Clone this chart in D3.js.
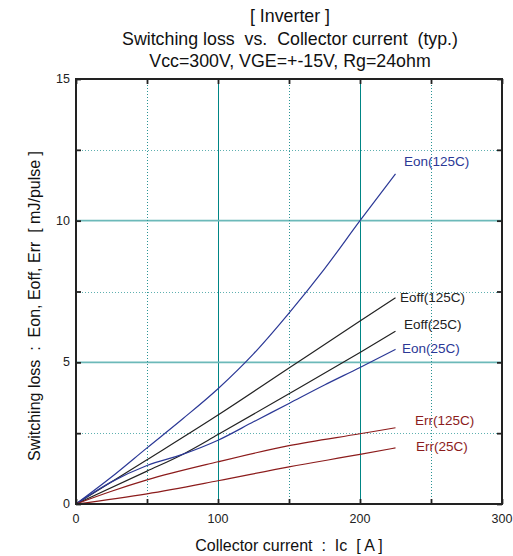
<!DOCTYPE html>
<html>
<head>
<meta charset="utf-8">
<script src="https://cdn.jsdelivr.net/npm/d3@7"></script>
<style>
  body { margin: 0; background: #fff; }
  text { font-family: "Liberation Sans", Arial, sans-serif; white-space: pre; }
</style>
</head>
<body>
<svg id="chart"></svg>
<script>
// values (Ic in A, E in mJ/pulse)
const eon125 = [[0,0],[25,0.95],[50,1.98],[75,3.0],[100,4.07],[125,5.3],[150,6.74],[175,8.3],[200,10.0],[225,11.65]];
const eoff125 = [[0,0],[50,1.56],[100,3.14],[150,4.8],[200,6.46],[225,7.28]];
const eoff25 = [[0,0],[50,1.16],[75,1.75],[100,2.45],[150,3.89],[200,5.35],[225,6.1]];
const eon25 = [[0,0],[25,0.78],[50,1.36],[75,1.75],[100,2.25],[125,2.9],[150,3.55],[175,4.2],[200,4.82],[225,5.46]];
const err125 = [[0,0],[25,0.45],[50,0.85],[100,1.49],[150,2.06],[200,2.48],[225,2.69]];
const err25 = [[0,0],[50,0.36],[100,0.82],[150,1.31],[200,1.75],[225,1.98]];

const xTicks = [0, 100, 200, 300];
const yTicks = [0, 5, 10, 15];
const xMinor = [50, 150, 250];
const yMinor = [2.5, 7.5, 12.5];

const titleLines = ["[ Inverter ]", "Switching loss  vs.  Collector current  (typ.)", "Vcc=300V, VGE=+-15V, Rg=24ohm"];

const blue = "#2b3896", black = "#222222", red = "#8c1c1c";

const series = [
    {name: "Eon(125C)", data: eon125, color: blue, lx: 404, ly: 166},
    {name: "Eoff(125C)", data: eoff125, color: black, lx: 400, ly: 302},
    {name: "Eoff(25C)", data: eoff25, color: black, lx: 404, ly: 329},
    {name: "Eon(25C)", data: eon25, color: blue, lx: 402, ly: 353},
    {name: "Err(125C)", data: err125, color: red, lx: 415, ly: 425},
    {name: "Err(25C)", data: err25, color: red, lx: 416, ly: 451}
];

const W = 513, H = 556;
const margin = {left: 76, top: 79, right: 11, bottom: 52}; // plot box

const svg = d3.select("#chart").attr("width", W).attr("height", H);

const x = d3.scaleLinear().domain([0, 300]).range([margin.left, W - margin.right]);
const y = d3.scaleLinear().domain([0, 15]).range([H - margin.bottom, margin.top]);

// grid (vertical lines nudged half a pixel so they stay crisp)
const grid = svg.append("g");
grid.selectAll(".vmaj").data([100, 200]).join("line")
    .attr("x1", d => Math.round(x(d)) + 0.5).attr("x2", d => Math.round(x(d)) + 0.5)
    .attr("y1", y(15)).attr("y2", y(0))
    .attr("stroke", "#008585").attr("stroke-width", 1);
grid.selectAll(".hmaj").data([5, 10]).join("line")
    .attr("x1", x(0)).attr("x2", x(300))
    .attr("y1", d => y(d)).attr("y2", d => y(d))
    .attr("stroke", "#6cb9b9").attr("stroke-width", 1.8);
grid.selectAll(".vmin").data(xMinor).join("line")
    .attr("x1", d => Math.round(x(d)) + 0.5).attr("x2", d => Math.round(x(d)) + 0.5)
    .attr("y1", y(15)).attr("y2", y(0))
    .attr("stroke", "#2a9494").attr("stroke-width", 1).attr("stroke-dasharray", "1,2");
grid.selectAll(".hmin").data(yMinor).join("line")
    .attr("x1", x(0)).attr("x2", x(300))
    .attr("y1", d => Math.round(y(d)) + 0.5).attr("y2", d => Math.round(y(d)) + 0.5)
    .attr("stroke", "#5fb0b0").attr("stroke-width", 1).attr("stroke-dasharray", "1,2");

// curves
const line = d3.line().x(d => x(d[0])).y(d => y(d[1])).curve(d3.curveMonotoneX);
svg.selectAll(".curve").data(series).join("path")
    .attr("d", d => line(d.data))
    .attr("fill", "none")
    .attr("stroke", d => d.color)
    .attr("stroke-width", 1.2);

svg.selectAll(".lbl").data(series).join("text")
    .attr("x", d => d.lx).attr("y", d => d.ly)
    .attr("fill", d => d.color)
    .attr("font-size", 13.5)
    .text(d => d.name);

// axes with inward ticks on all four sides
const allX = [0, 50, 100, 150, 200, 250, 300];
const allY = [0, 2.5, 5, 7.5, 10, 12.5, 15];
const tickLen = 5;
svg.append("g").attr("transform", `translate(0,${y(0)})`)
    .call(d3.axisTop(x).tickValues(allX).tickSize(tickLen).tickFormat(""));
svg.append("g").attr("transform", `translate(0,${y(15)})`)
    .call(d3.axisBottom(x).tickValues(allX).tickSize(tickLen).tickFormat(""));
svg.append("g").attr("transform", `translate(${x(0)},0)`)
    .call(d3.axisRight(y).tickValues(allY).tickSize(tickLen).tickFormat(""));
svg.append("g").attr("transform", `translate(${x(300)},0)`)
    .call(d3.axisLeft(y).tickValues(allY).tickSize(tickLen).tickFormat(""));
svg.selectAll(".tick line").attr("stroke", "#222").attr("stroke-width", 1.8);
svg.selectAll(".domain").remove();

svg.append("rect")
    .attr("x", x(0)).attr("y", y(15))
    .attr("width", x(300) - x(0)).attr("height", y(0) - y(15))
    .attr("fill", "none").attr("stroke", "#222").attr("stroke-width", 2);

// tick labels
svg.selectAll(".xl").data(xTicks).join("text")
    .attr("x", d => x(d)).attr("y", y(0) + 19)
    .attr("text-anchor", "middle").attr("font-size", 12.5).attr("fill", "#222")
    .text(d => d);
svg.selectAll(".yl").data(yTicks).join("text")
    .attr("x", x(0) - 6).attr("y", d => y(d) + 4)
    .attr("text-anchor", "end").attr("font-size", 12.5).attr("fill", "#222")
    .text(d => d);

// titles
svg.selectAll(".title").data(titleLines).join("text")
    .attr("x", (x(0) + x(300)) / 2 + 1).attr("y", (d, i) => 22 + i * 22.5)
    .attr("text-anchor", "middle").attr("font-size", 17.8).attr("fill", "#111")
    .text(d => d);

svg.append("text")
    .attr("x", (x(0) + x(300)) / 2).attr("y", 551)
    .attr("text-anchor", "middle").attr("font-size", 16).attr("fill", "#111")
    .text("Collector current  :  Ic  [ A ]");

svg.append("text")
    .attr("transform", "translate(40,306) rotate(-90)")
    .attr("text-anchor", "middle").attr("font-size", 16).attr("fill", "#111")
    .text("Switching loss  :  Eon, Eoff, Err  [ mJ/pulse ]");
</script>
</body>
</html>
